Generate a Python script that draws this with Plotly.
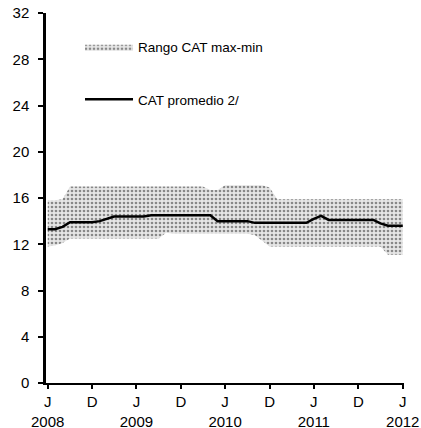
import plotly.graph_objects as go
import pandas as pd

# Monthly data, June 2008 .. June 2012
months = pd.date_range("2008-06-01", "2012-06-01", freq="MS").strftime("%Y-%m-%d").tolist()

cat_max = [15.8, 15.8, 15.9, 17.0, 17.0, 17.0, 17.0, 17.0, 17.0, 17.0,
           17.0, 17.0, 17.0, 17.0, 17.0, 17.0, 17.0, 17.0, 17.0, 17.0,
           17.0, 17.0, 16.7, 16.7, 17.1, 17.1, 17.1, 17.1, 17.1, 17.1,
           16.9, 15.9, 15.9, 15.9, 15.9, 15.9, 15.9, 15.9, 15.9, 15.9,
           15.9, 15.9, 15.9, 15.9, 15.9, 15.9, 15.9, 15.9, 15.9]

cat_min = [11.8, 11.9, 12.1, 12.5, 12.5, 12.5, 12.5, 12.5, 12.5, 12.5,
           12.5, 12.5, 12.5, 12.5, 12.5, 12.5, 13.0, 12.9, 12.9, 12.9,
           12.9, 12.9, 12.9, 12.9, 12.9, 12.9, 12.9, 12.9, 12.8, 12.3,
           11.8, 11.8, 11.8, 11.8, 11.8, 11.8, 11.8, 11.8, 11.8, 11.8,
           11.8, 11.8, 11.8, 11.8, 11.8, 11.8, 11.1, 11.1, 11.1]

cat_prom = [13.3, 13.3, 13.5, 13.9, 13.9, 13.9, 13.9, 14.0, 14.2, 14.4,
            14.4, 14.4, 14.4, 14.4, 14.5, 14.5, 14.5, 14.5, 14.5, 14.5,
            14.5, 14.5, 14.5, 14.0, 14.0, 14.0, 14.0, 14.0, 13.85, 13.85,
            13.85, 13.85, 13.85, 13.85, 13.85, 13.85, 14.2, 14.45, 14.1, 14.1,
            14.1, 14.1, 14.1, 14.1, 14.1, 13.8, 13.6, 13.6, 13.6]

tick_vals = ["2008-06-01", "2008-12-01", "2009-06-01", "2009-12-01", "2010-06-01",
             "2010-12-01", "2011-06-01", "2011-12-01", "2012-06-01"]
tick_text = ["J<br>2008", "D", "J<br>2009", "D", "J<br>2010", "D", "J<br>2011", "D", "J<br>2012"]

FONT = "Liberation Sans, Arial, sans-serif"

fig = go.Figure()
fig.add_trace(go.Scatter(
    x=months, y=cat_max, mode="lines", line=dict(width=0, color="#999"),
    showlegend=False, hoverinfo="skip", legendgroup="a"))
fig.add_trace(go.Scatter(
    x=months, y=cat_min, mode="lines", line=dict(width=0, color="#999"),
    fill="tonexty", fillcolor="#d9d9d9",
    fillpattern=dict(shape=".", fgcolor="#2a2a2a", bgcolor="#e6e6e6",
                     size=4, solidity=0.35),
    name="Rango CAT max-min", legendgroup="a"))
fig.add_trace(go.Scatter(
    x=months, y=cat_prom, mode="lines", line=dict(width=2.5, color="#000"),
    name="CAT promedio 2/", legendgroup="b"))

fig.update_layout(
    width=421, height=428,
    margin=dict(l=46, r=17, t=13, b=45),
    paper_bgcolor="white", plot_bgcolor="white",
    font=dict(family=FONT, size=15, color="#000"),
    showlegend=True,
    legend=dict(x=0.095, y=0.95, xanchor="left", yanchor="top",
                bgcolor="rgba(0,0,0,0)", itemwidth=48,
                traceorder="grouped", tracegroupgap=32,
                font=dict(family=FONT, size=13.5)),
    xaxis=dict(type="date", range=["2008-05-25", "2012-06-06"],
               tickvals=tick_vals, ticktext=tick_text,
               showgrid=False, zeroline=False, automargin=False,
               showline=True, linecolor="#000", linewidth=2,
               ticks="outside", ticklen=4, tickwidth=2, tickcolor="#000",
               tickfont=dict(family=FONT, size=15)),
    yaxis=dict(range=[0, 32], dtick=4, tick0=0,
               showgrid=False, zeroline=False, automargin=False,
               showline=True, linecolor="#000", linewidth=2.5,
               ticks="outside", ticklen=5, tickwidth=2, tickcolor="#000",
               ticklabelstandoff=6,
               tickfont=dict(family=FONT, size=15)),
)

fig.write_html(
    "out.html",
    config={"displayModeBar": False},
    post_script="document.body.style.margin='0';document.body.style.overflow='hidden';",
)
